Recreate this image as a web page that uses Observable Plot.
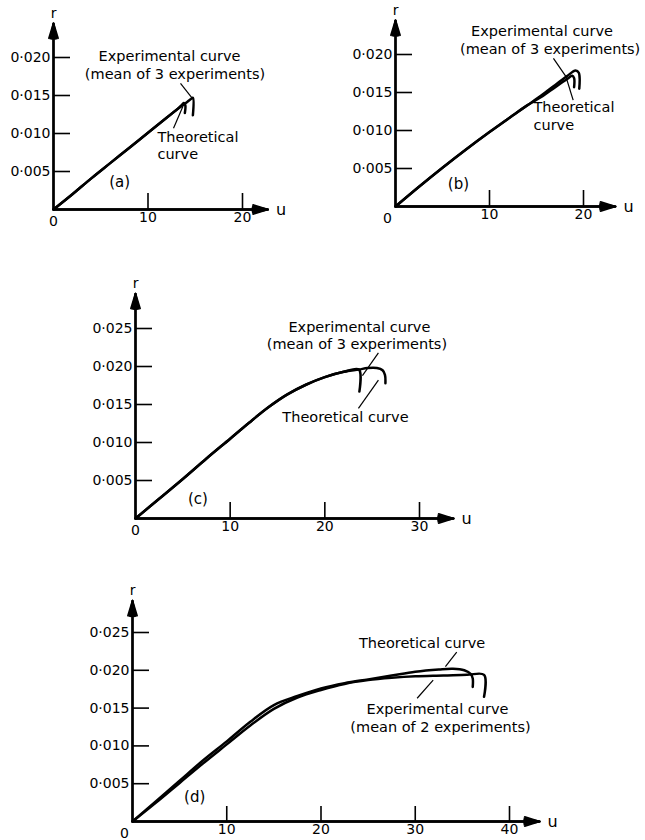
<!DOCTYPE html>
<html><head><meta charset="utf-8">
<script src="https://cdn.jsdelivr.net/npm/d3@7"></script>
<script src="https://cdn.jsdelivr.net/npm/@observablehq/plot@0.6"></script>
<style>
html,body{margin:0;padding:0;background:#fff;}
#chart{position:relative;width:645px;height:840px;overflow:hidden;background:#fff;}
#chart svg{position:absolute;overflow:visible;}
</style></head><body><div id="chart"></div>
<script>
// ---------- data (u, r) ----------
// Panel (a)
const aExpU  = [0, 2, 4, 6, 8, 10, 12, 13.2, 14.0, 14.5, 14.75, 14.75];
const aExpR  = [0, 0.0020, 0.0041, 0.0061, 0.0081, 0.0101, 0.0121, 0.0133, 0.0140, 0.0145, 0.0147, 0.0124];
const aTheoU = [0, 2, 4, 6, 8, 10, 12, 13.2, 13.6, 13.8, 13.95, 13.9];
const aTheoR = [0, 0.0020, 0.0041, 0.0061, 0.0081, 0.0101, 0.0121, 0.0133, 0.0138, 0.0140, 0.0137, 0.0127];
// Panel (b)
const bExpU  = [0, 2.5, 5, 7.5, 10, 12.5, 14, 15.5, 17, 18.3, 19.15, 19.5, 19.55];
const bExpR  = [0, 0.0026, 0.0051, 0.0075, 0.0098, 0.0120, 0.0133, 0.0146, 0.0160, 0.0172, 0.0179, 0.0176, 0.0155];
const bTheoU = [0, 2.5, 5, 7.5, 10, 12.5, 14, 15.5, 17, 18.3, 18.8, 19.0, 19.0];
const bTheoR = [0, 0.0026, 0.0051, 0.0075, 0.0098, 0.0120, 0.0133, 0.0144, 0.0157, 0.0168, 0.0172, 0.0169, 0.0157];
// Panel (c)
const cExpU  = [0, 2.5, 5, 7.5, 10, 12, 14, 16, 18, 20, 22, 23.6, 23.65];
const cExpR  = [0, 0.0026, 0.0052, 0.0079, 0.0105, 0.0126, 0.0146, 0.0163, 0.0176, 0.0186, 0.0193, 0.0196, 0.0167];
const cTheoU = [0, 2.5, 5, 7.5, 10, 12, 14, 16, 18, 20, 22, 23.6, 24.5, 25.5, 26.1, 26.35, 26.4];
const cTheoR = [0, 0.0026, 0.0052, 0.0079, 0.0105, 0.0126, 0.0146, 0.0163, 0.0176, 0.0186, 0.0193, 0.0196, 0.0198, 0.0198, 0.0195, 0.0189, 0.0178];
// Panel (d)
const dExpU  = [0, 2.5, 5, 7.5, 10, 12.5, 15, 17.5, 20, 22.5, 25, 27.5, 30, 33, 35.5, 37.3, 37.3];
const dExpR  = [0, 0.0025, 0.0051, 0.0077, 0.0102, 0.0127, 0.0149, 0.0164, 0.0174, 0.0182, 0.0187, 0.0190, 0.0192, 0.0193, 0.0194, 0.0194, 0.0165];
const dTheoU = [0, 2.5, 5, 7.5, 10, 12.5, 15, 17.5, 20, 22.5, 25, 27.5, 30, 32.5, 34, 35.2, 35.9, 36.1, 36.1];
const dTheoR = [0, 0.0027, 0.0054, 0.0081, 0.0106, 0.0132, 0.0154, 0.0166, 0.0176, 0.0183, 0.0188, 0.0193, 0.0198, 0.0201, 0.0202, 0.0200, 0.0195, 0.0189, 0.0178];

// tick values
const xTicksAB = [10, 20];
const xTicksC  = [10, 20, 30];
const xTicksD  = [10, 20, 30, 40];
const yTicksAB = [0.005, 0.010, 0.015, 0.020];
const yTicksCD = [0.005, 0.010, 0.015, 0.020, 0.025];

// annotation texts
const expLine1 = "Experimental curve";
const expLine2of3 = "(mean of 3 experiments)";
const expLine2of2 = "(mean of 2 experiments)";
const theoLine1 = "Theoretical";
const theoLine2 = "curve";
const theoOneLine = "Theoretical curve";

// ---------- drawing ----------
const FONT = "'DejaVu Sans', sans-serif";
const fmtR = d => d3.format(".3f")(d).replace(".", "\u00b7");
const rows = (U, R) => U.map((u, i) => ({u, r: R[i]}));

function panel(cfg) {
  const exp = rows(cfg.expU, cfg.expR);
  const theo = rows(cfg.theoU, cfg.theoR);
  const axes = [
    {x1: 0, y1: 0, x2: cfg.uTip, y2: 0},
    {x1: 0, y1: 0, x2: 0, y2: cfg.rTip}
  ];
  const marks = [
    Plot.axisY({ticks: cfg.yTicks, tickSize: -17, tickPadding: 20, tickFormat: fmtR, label: null, strokeWidth: 1.6, fontSize: 14}),
    Plot.axisX({ticks: cfg.xTicks, tickSize: -cfg.xTickLen, tickPadding: cfg.xTickLen + 3, tickFormat: d => String(d), label: null, strokeWidth: 1.6, fontSize: 14}),
    ...[34, 24, 14, 5].map(a => Plot.arrow(axes, {x1: "x1", y1: "y1", x2: "x2", y2: "y2", headAngle: a, headLength: 13, strokeWidth: 1.8, stroke: "black"})),
    Plot.text([{u: cfg.uTip, r: 0, t: "u"}], {x: "u", y: "r", text: "t", dx: 13, fontSize: 16, textAnchor: "middle"}),
    Plot.text([{u: 0, r: cfg.rTip, t: "r"}], {x: "u", y: "r", text: "t", dy: -10, fontSize: 14, textAnchor: "middle"}),
    Plot.text([{u: 0, r: 0, t: "0"}], {x: "u", y: "r", text: "t", dx: cfg.zeroDx, dy: 12, fontSize: 14, textAnchor: "middle"}),
    Plot.line(theo, {x: "u", y: "r", stroke: "black", strokeWidth: 2.5, curve: "catmull-rom", strokeLinejoin: "round", strokeLinecap: "round"}),
    Plot.line(exp, {x: "u", y: "r", stroke: "black", strokeWidth: 2.5, curve: "catmull-rom", strokeLinejoin: "round", strokeLinecap: "round"}),
    Plot.link(cfg.leaders, {x1: "u1", y1: "r1", x2: "u2", y2: "r2", stroke: "black", strokeWidth: 1.2}),
    Plot.text(cfg.labels.filter(d => d.a === "middle"), {x: "u", y: "r", text: "t", textAnchor: "middle", fontSize: 14.5}),
    Plot.text(cfg.labels.filter(d => d.a === "start"), {x: "u", y: "r", text: "t", textAnchor: "start", fontSize: 14.5}),
    Plot.text(cfg.tag, {x: "u", y: "r", text: "t", textAnchor: "middle", fontSize: 15, letterSpacing: "3px"}),
  ];
  const svg = Plot.plot({
    width: cfg.width, height: cfg.height,
    marginLeft: cfg.ml, marginRight: cfg.mr, marginTop: cfg.mt, marginBottom: cfg.mb,
    x: {domain: cfg.xDomain},
    y: {domain: cfg.yDomain},
    style: {fontFamily: FONT, fontSize: "14px", background: "none", color: "black", overflow: "visible"},
    marks
  });
  svg.style.left = cfg.left + "px";
  svg.style.top = cfg.top + "px";
  return svg;
}

const chart = document.getElementById("chart");

chart.appendChild(panel({
  left: 0, top: 0, width: 300, height: 240, ml: 53, mr: 58, mt: 57, mb: 31,
  xDomain: [0, 20], yDomain: [0, 0.020], xTicks: xTicksAB, yTicks: yTicksAB, xTickLen: 16,
  uTip: 22.7, rTip: 0.0245, zeroDx: 0,
  expU: aExpU, expR: aExpR, theoU: aTheoU, theoR: aTheoR,
  labels: [
    {u: 12.28, r: 0.0201, t: expLine1, a: "middle"},
    {u: 12.86, r: 0.0178, t: expLine2of3, a: "middle"},
    {u: 11.0, r: 0.00955, t: theoLine1, a: "start"},
    {u: 11.0, r: 0.00725, t: theoLine2, a: "start"}
  ],
  tag: [{u: 7.0, r: 0.0036, t: "(a)"}],
  leaders: [
    {u1: 13.44, r1: 0.0166, u2: 14.65, r2: 0.0147},
    {u1: 12.7, r1: 0.0107, u2: 13.7, r2: 0.0136}
  ]
}));

chart.appendChild(panel({
  left: 320, top: 0, width: 325, height: 240, ml: 75, mr: 62, mt: 54, mb: 34,
  xDomain: [0, 20], yDomain: [0, 0.020], xTicks: xTicksAB, yTicks: yTicksAB, xTickLen: 16,
  uTip: 23.4, rTip: 0.0245, zeroDx: -8,
  expU: bExpU, expR: bExpR, theoU: bTheoU, theoR: bTheoR,
  labels: [
    {u: 15.59, r: 0.0230, t: expLine1, a: "middle"},
    {u: 16.45, r: 0.0207, t: expLine2of3, a: "middle"},
    {u: 14.68, r: 0.0130, t: theoLine1, a: "start"},
    {u: 14.68, r: 0.01065, t: theoLine2, a: "start"}
  ],
  tag: [{u: 6.7, r: 0.0030, t: "(b)"}],
  leaders: [
    {u1: 16.8, r1: 0.0195, u2: 18.3, r2: 0.0168},
    {u1: 18.9, r1: 0.0140, u2: 18.1, r2: 0.0172}
  ]
}));

chart.appendChild(panel({
  left: 0, top: 250, width: 500, height: 300, ml: 135, mr: 81, mt: 78, mb: 32,
  xDomain: [0, 30], yDomain: [0, 0.025], xTicks: xTicksC, yTicks: yTicksCD, xTickLen: 16,
  uTip: 33.6, rTip: 0.0296, zeroDx: 0,
  expU: cExpU, expR: cExpR, theoU: cTheoU, theoR: cTheoR,
  labels: [
    {u: 23.65, r: 0.0252, t: expLine1, a: "middle"},
    {u: 23.39, r: 0.0229, t: expLine2of3, a: "middle"},
    {u: 22.18, r: 0.0133, t: theoOneLine, a: "middle"}
  ],
  tag: [{u: 6.6, r: 0.0026, t: "(c)"}],
  leaders: [
    {u1: 25.66, r1: 0.0218, u2: 23.97, r2: 0.0188},
    {u1: 23.55, r1: 0.0145, u2: 25.66, r2: 0.0182}
  ]
}));

chart.appendChild(panel({
  left: 0, top: 560, width: 645, height: 280, ml: 132, mr: 136, mt: 72, mb: 19,
  xDomain: [0, 40], yDomain: [0, 0.025], xTicks: xTicksD, yTicks: yTicksCD, xTickLen: 15,
  uTip: 43.2, rTip: 0.0292, zeroDx: -8,
  expU: dExpU, expR: dExpR, theoU: dTheoU, theoR: dTheoR,
  labels: [
    {u: 30.72, r: 0.0235, t: theoOneLine, a: "middle"},
    {u: 32.36, r: 0.0148, t: expLine1, a: "middle"},
    {u: 32.68, r: 0.0124, t: expLine2of2, a: "middle"}
  ],
  tag: [{u: 6.6, r: 0.0032, t: "(d)"}],
  leaders: [
    {u1: 34.4, r1: 0.0224, u2: 33.2, r2: 0.0205},
    {u1: 30.2, r1: 0.0163, u2: 31.9, r2: 0.0187}
  ]
}));
</script>
</body></html>
